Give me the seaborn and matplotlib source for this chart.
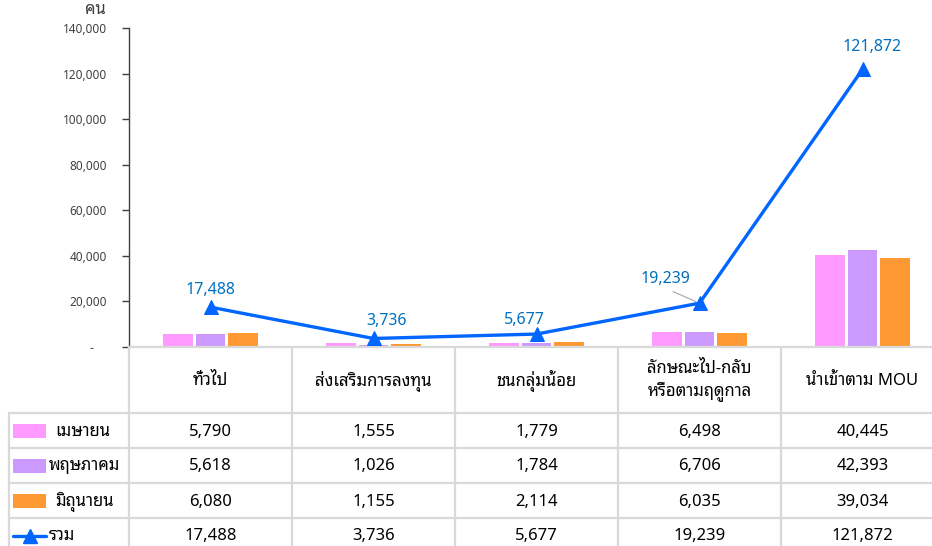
import numpy as np
import pandas as pd
import matplotlib
matplotlib.use("Agg")
import matplotlib.pyplot as plt
from matplotlib.patches import Rectangle
from matplotlib.ticker import FuncFormatter
import seaborn as sns

# ---- data -------------------------------------------------------------
categories = ["ทั่วไป", "ส่งเสริมการลงทุน", "ชนกลุ่มน้อย",
              "ลักษณะไป-กลับ\nหรือตามฤดูกาล", "นำเข้าตาม MOU"]
months = ["เมษายน", "พฤษภาคม", "มิถุนายน"]
april = [5790, 1555, 1779, 6498, 40445]
may = [5618, 1026, 1784, 6706, 42393]
june = [6080, 1155, 2114, 6035, 39034]
total = [17488, 3736, 5677, 19239, 121872]
total_label = "รวม"
unit_label = "คน"
y_ticks = [0, 20000, 40000, 60000, 80000, 100000, 120000, 140000]

# ---- style ------------------------------------------------------------
month_colors = ["#FF99FF", "#CC99FF", "#FF9933"]
line_color = "#0066FF"
label_color = "#0070C0"
rule_color = "#D9D9D9"
text_color = "#000000"
tick_color = "#404040"

sns.set_theme(style="white")
plt.rcParams["font.family"] = ["Noto Sans Thai Looped", "DejaVu Sans"]

W_PX, H_PX = 932, 546
fig = plt.figure(figsize=(W_PX / 100, H_PX / 100), dpi=100)

# plot area in pixels: left edge, right edge (runs past the canvas), top, bottom
ax_l, ax_r, ax_t, ax_b = 129, 944, 28, 347
col_px = (ax_r - ax_l) / len(categories)

ax = fig.add_axes([ax_l / W_PX, 1 - ax_b / H_PX,
                   (ax_r - ax_l) / W_PX, (ax_b - ax_t) / H_PX])

df = pd.DataFrame({
    "ประเภท": np.tile(categories, len(months)),
    "เดือน": np.repeat(months, len(categories)),
    "จำนวน": april + may + june,
})

sns.barplot(data=df, x="ประเภท", y="จำนวน", hue="เดือน",
            order=categories, hue_order=months, palette=month_colors,
            saturation=1, width=0.6, gap=0.08, linewidth=0,
            errorbar=None, legend=False, ax=ax, zorder=2)

pos = np.arange(len(categories))
sns.lineplot(x=pos, y=total, color=line_color, linewidth=2.4,
             marker="^", markersize=10, markeredgecolor=line_color,
             ax=ax, zorder=4)

ax.set_xlim(-0.5, len(categories) - 0.5)
ax.set_ylim(0, max(y_ticks))
ax.set_yticks(y_ticks)
ax.yaxis.set_major_formatter(
    FuncFormatter(lambda v, _: "-    " if v == 0 else f"{int(v):,}"))
ax.tick_params(axis="y", which="major", left=True, length=5, width=1,
               color=tick_color, labelsize=8.5, labelcolor=tick_color, pad=11)
ax.tick_params(axis="x", bottom=False, labelbottom=False)
ax.set_xlabel("")
ax.set_ylabel("")
for s in ("top", "right"):
    ax.spines[s].set_visible(False)
ax.spines["left"].set_color(tick_color)
ax.spines["left"].set_linewidth(1)
ax.spines["bottom"].set_color(rule_color)
ax.spines["bottom"].set_linewidth(1.6)
ax.patch.set_alpha(0)

fig.text(95 / W_PX, 1 - 10 / H_PX, unit_label, ha="center", va="center",
         fontsize=12, color=tick_color)

# value labels on the total line (offsets in pixels)
label_offsets = [(0, 17), (13, 17), (-12, 14), (-34, 24), (10, 22)]
for i, (v, (dx, dy)) in enumerate(zip(total, label_offsets)):
    kw = {}
    if i == 3:
        kw["arrowprops"] = dict(arrowstyle="-", color="#A6A6A6", lw=0.8,
                                relpos=(0.45, 0.0), shrinkA=2, shrinkB=3)
    ax.annotate(f"{v:,}", xy=(i, v), xytext=(dx, dy),
                textcoords="offset pixels", ha="center", va="center",
                fontsize=11.5, color=label_color, zorder=5, **kw)

# ---- data table under the plot ---------------------------------------
tb_l, tb_b = 9, 553          # table left edge and bottom edge (pixels)
head_h, row_h = 66, 35
lead = (ax_l - tb_l) / col_px  # width of the row-label column, in category units
tab = fig.add_axes([tb_l / W_PX, 1 - tb_b / H_PX,
                    (ax_r - tb_l) / W_PX, (tb_b - ax_b) / H_PX])
tab.set_xlim(-0.5 - lead, len(categories) - 0.5)
tab.set_ylim(tb_b - ax_b, 0)
tab.axis("off")

x_left = -0.5 - lead
x_end = len(categories) - 0.5
row_tops = [head_h + k * row_h for k in range(4)]
line_kw = dict(color=rule_color, lw=1.6, clip_on=False, zorder=1)

# column rules
for b in np.arange(-0.5, len(categories), 1.0):
    tab.plot([b, b], [0, tb_b - ax_b], **line_kw)
tab.plot([x_left, x_left], [head_h, tb_b - ax_b], **line_kw)
# row rules
for y in row_tops:
    tab.plot([x_left, x_end], [y, y], **line_kw)

# header
for i, c in enumerate(categories):
    tab.text(i, head_h / 2 + 1, c, ha="center", va="center", fontsize=12,
             color=text_color, linespacing=1.35)

# body rows
rows = [april, may, june, total]
row_names = months + [total_label]
name_left = [55, 49, 55, 49]
for r, (vals, name) in enumerate(zip(rows, row_names)):
    yc = row_tops[r] + row_h / 2
    for i, v in enumerate(vals):
        tab.text(i, yc + 1, f"{v:,}", ha="center", va="center", fontsize=12,
                 color=text_color)
    tab.text(x_left + (name_left[r] - tb_l) / col_px, yc + 1, name,
             ha="left", va="center", fontsize=12, color=text_color)
    kx0 = x_left + 4 / col_px
    kw_ = 33 / col_px
    if r < 3:
        tab.add_patch(Rectangle((kx0, yc - 7), kw_, 14,
                                facecolor=month_colors[r], edgecolor="none",
                                clip_on=False, zorder=3))
    else:
        tab.plot([kx0, kx0 + kw_], [yc, yc], color=line_color, lw=2.4,
                 clip_on=False, zorder=3)
        tab.plot([kx0 + kw_ / 2], [yc], marker="^", markersize=10,
                 color=line_color, clip_on=False, zorder=4)

fig.savefig("out.png", dpi=100)
